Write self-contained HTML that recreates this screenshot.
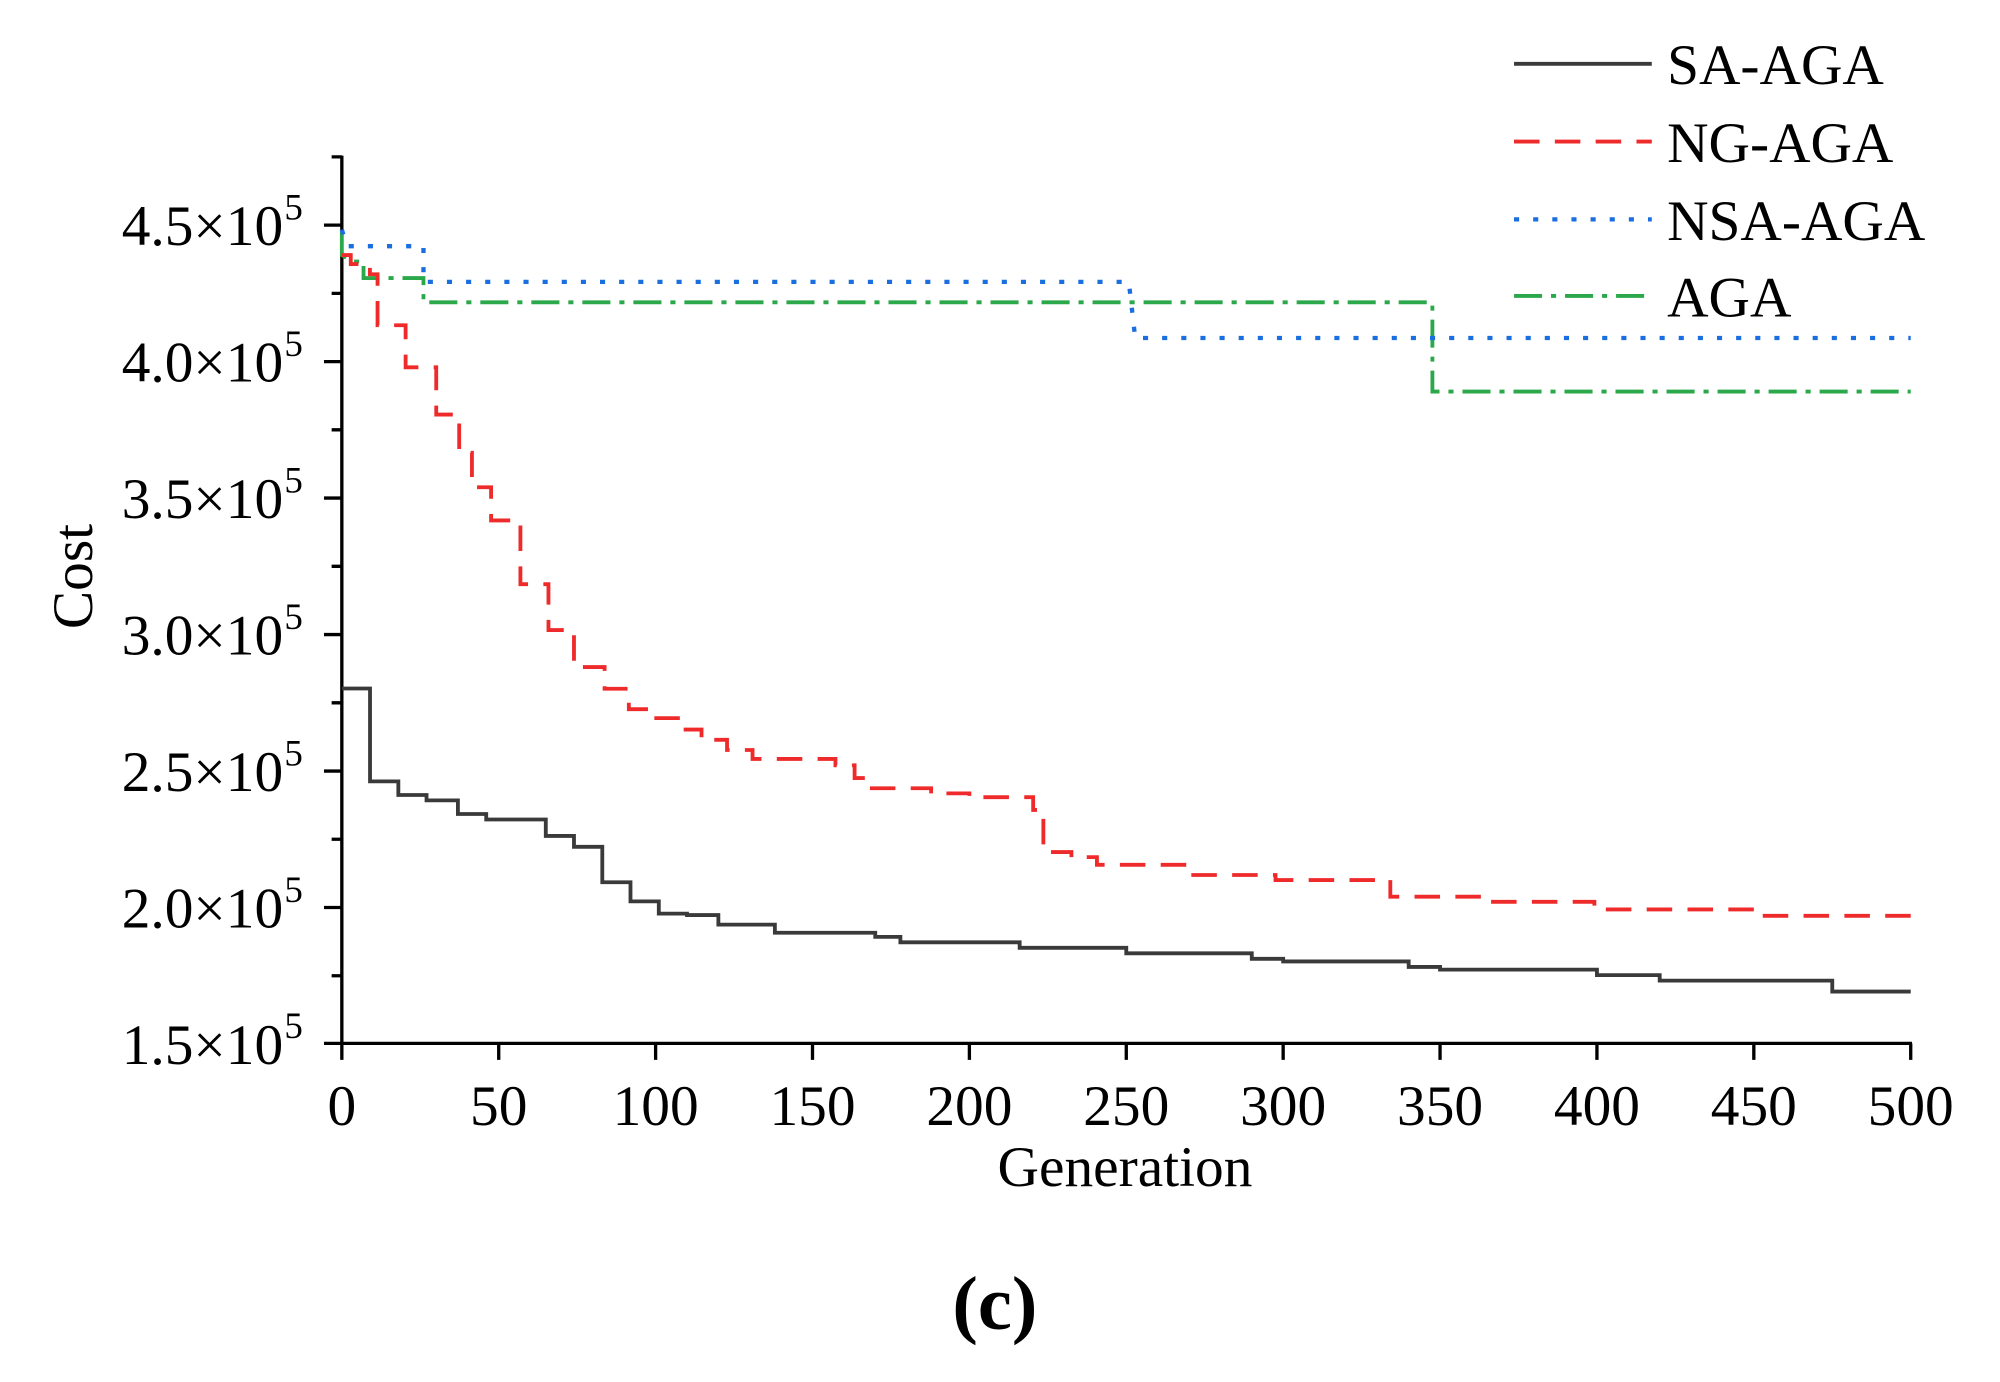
<!DOCTYPE html>
<html><head><meta charset="utf-8"><style>
html,body{margin:0;padding:0;background:#fff;}
svg{display:block;}
text{font-family:"Liberation Serif",serif;fill:#000;}
</style></head><body>
<svg width="2000" height="1382" viewBox="0 0 1568 1083.5" preserveAspectRatio="none" xmlns="http://www.w3.org/2000/svg">
<rect width="1568" height="1083.5" fill="#fff"/>
<g stroke="#000" stroke-width="2.6" fill="none">
<path d="M268,122 V818 H1499"/>
<path d="M254,176.5 H268 M254,283.5 H268 M254,390.5 H268 M254,497.5 H268 M254,604.5 H268 M254,711.5 H268 M254,818 H268"/>
<path d="M260,123 H268 M260,230 H268 M260,337 H268 M260,444 H268 M260,551 H268 M260,658 H268 M260,765 H268"/>
<path d="M268,818 V831 M391,818 V831 M514,818 V831 M637,818 V831 M760,818 V831 M883,818 V831 M1006,818 V831 M1129,818 V831 M1252,818 V831 M1375,818 V831 M1498,818 V831"/>
</g>
<g font-size="45" text-anchor="end">
<text x="222" y="192">4.5×10</text><text x="222" y="299">4.0×10</text><text x="222" y="406">3.5×10</text><text x="222" y="513">3.0×10</text><text x="222" y="620">2.5×10</text><text x="222" y="727">2.0×10</text><text x="222" y="834">1.5×10</text>
</g>
<g font-size="29">
<text x="223" y="172">5</text><text x="223" y="279">5</text><text x="223" y="386">5</text><text x="223" y="493">5</text><text x="223" y="600">5</text><text x="223" y="707">5</text><text x="223" y="814">5</text>
</g>
<g font-size="45" text-anchor="middle">
<text x="268" y="882">0</text><text x="391" y="882">50</text><text x="514" y="882">100</text><text x="637" y="882">150</text><text x="760" y="882">200</text><text x="883" y="882">250</text><text x="1006" y="882">300</text><text x="1129" y="882">350</text><text x="1252" y="882">400</text><text x="1375" y="882">450</text><text x="1498" y="882">500</text>
</g>
<text x="882" y="930" font-size="45" text-anchor="middle">Generation</text>
<text transform="translate(72,452) rotate(-90)" font-size="45" text-anchor="middle">Cost</text>
<text x="780" y="1042" font-size="60" font-weight="bold" text-anchor="middle">(c)</text>
<g fill="none" stroke-width="3">
<path stroke="#2ba84a" stroke-dasharray="22 7 4 7" d="M268,182 V200 L276,205 H285 V218 H332 V237 H1123 V307 H1498"/>
<path stroke="#1a6fe0" stroke-width="3.4" stroke-dasharray="4 11" d="M268,180 L272,193 H332 V221 H885 L890,265 H1498"/>
<path stroke="#ee2a2a" stroke-dasharray="20 12" d="M268,200 H275 V207 H290 V215 H296 V255 H318 V288 H342 V325 H360 V355 H370 V382 H385 V408 H408 V458 H430 V494 H450 V523 H474 V540 H493 V556 H510 V563 H535 V572 H550 V580 H570 V588 H590 V595 H655 V600 H670 V610 H678 V618 H730 V622 H760 V625 H810 V635 H818 V668 H840 V672 H860 V678 H930 V686 H1000 V690 H1090 V703 H1165 V707 H1250 V713 H1380 V718 H1498 V720"/>
<path stroke="#3a3a3a" stroke-width="3" d="M268,539.8 H290.1 V612.6 H312.3 V623.3 H334.4 V627.5 H359 V638.2 H381.2 V642.5 H427.9 V655.4 H450 V663.9 H472.2 V691.7 H494.3 V706.7 H516.5 V716.3 H538.6 V717.4 H563.2 V724.9 H607.5 V731.3 H686.2 V734.5 H705.9 V738.8 H799.4 V743.1 H883 V747.4 H981.4 V751.7 H1006 V753.8 H1104.4 V758.1 H1129 V760.2 H1252 V764.5 H1301.2 V768.8 H1436.5 V777.4 H1498"/>
</g>
<g fill="none" stroke-width="3">
<path stroke="#3a3a3a" d="M1187,50 H1295"/>
<path stroke="#ee2a2a" stroke-dasharray="20 12" d="M1187,111 H1295"/>
<path stroke="#1a6fe0" stroke-width="3.4" stroke-dasharray="4 11" d="M1187,172 H1295"/>
<path stroke="#2ba84a" stroke-dasharray="22 7 4 7" d="M1187,232 H1295"/>
</g>
<g font-size="45">
<text x="1307" y="66">SA-AGA</text>
<text x="1307" y="127">NG-AGA</text>
<text x="1307" y="188">NSA-AGA</text>
<text x="1307" y="248">AGA</text>
</g>
</svg>
</body></html>
